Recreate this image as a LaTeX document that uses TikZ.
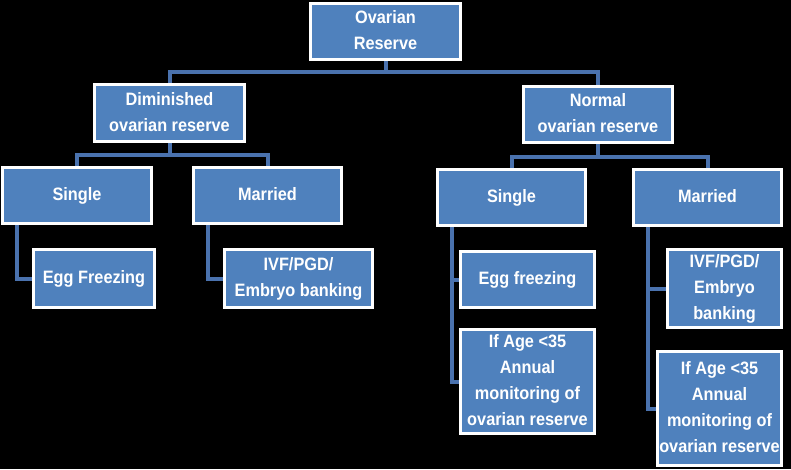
\documentclass[tikz,border=0pt]{standalone}
\usepackage{fontspec}
\usepackage{graphicx}
\setmainfont{Liberation Sans}
\usetikzlibrary{backgrounds}
\definecolor{boxblue}{HTML}{4F81BD}
\definecolor{lineblue}{HTML}{4A72AE}
\newcommand\boxtxt[1]{\scalebox{1}[1.1]{\begin{tabular}{@{}c@{}}#1\end{tabular}}}
\begin{document}
\begin{tikzpicture}[x=1pt,y=-1pt,
  box/.style={draw=white,line width=3pt,fill=boxblue,text=white,
    font=\fontsize{16.3}{23.6}\selectfont\bfseries,align=center,
    inner sep=0pt,minimum width=#1},
  conn/.style={draw=lineblue,line width=4pt}]
\useasboundingbox (0,0) rectangle (791,469);
\node[box=150,minimum height=56] (O) at (385.5,31.5) {\boxtxt{Ovarian\\Reserve}};
\node[box=150,minimum height=57] (D) at (169.5,113) {\boxtxt{Diminished\\ovarian reserve}};
\node[box=149,minimum height=56] (N) at (598,114.5) {\boxtxt{Normal\\ovarian reserve}};
\node[box=149,minimum height=56] (S1) at (77,195.5) {\boxtxt{Single}};
\node[box=148,minimum height=56] (M1) at (267.5,195.5) {\boxtxt{Married}};
\node[box=121,minimum height=58] (E1) at (94,278.5) {\boxtxt{Egg Freezing}};
\node[box=148,minimum height=58] (I1) at (298.5,278.5) {\boxtxt{IVF/PGD/\\Embryo banking}};
\node[box=148,minimum height=56] (S2) at (511.5,197.5) {\boxtxt{Single}};
\node[box=148,minimum height=56] (M2) at (707.5,197.5) {\boxtxt{Married}};
\node[box=134,minimum height=56] (E2) at (527.5,279.5) {\boxtxt{Egg freezing}};
\node[box=134,minimum height=96] (A2) at (527.5,381.5) {\boxtxt{If Age <35\\Annual\\monitoring of\\ovarian reserve}};
\node[box=114,minimum height=74] (I2) at (724.5,288.5) {\boxtxt{IVF/PGD/\\Embryo\\banking}};
\node[box=124,minimum height=114] (A3) at (719.5,408.5) {\boxtxt{If Age <35\\Annual\\monitoring of\\ovarian reserve}};
\coordinate (h0) at (0,72);
\coordinate (h1) at (0,155);
\coordinate (h2) at (0,157);
\coordinate (v1) at (17,0);
\coordinate (v2) at (208,0);
\coordinate (v3) at (452,0);
\coordinate (v4) at (648,0);
\begin{pgfonlayer}{background}
\fill[black] (0,0) rectangle (791,469);
\draw[conn] (O.south) -- (O.south |- h0) -| (D.north);
\draw[conn] (O.south) -- (O.south |- h0) -| (N.north);
\draw[conn] (D.south) -- (D.south |- h1) -| (S1.north);
\draw[conn] (D.south) -- (D.south |- h1) -| (M1.north);
\draw[conn] (N.south) -- (N.south |- h2) -| (S2.north);
\draw[conn] (N.south) -- (N.south |- h2) -| (M2.north);
\draw[conn] (S1.south -| v1) |- (E1.west);
\draw[conn] (M1.south -| v2) |- (I1.west);
\draw[conn] (S2.south -| v3) |- (E2.west);
\draw[conn] (S2.south -| v3) |- (A2.west);
\draw[conn] (M2.south -| v4) |- (I2.west);
\draw[conn] (M2.south -| v4) |- (A3.west);
\end{pgfonlayer}
\end{tikzpicture}
\end{document}
